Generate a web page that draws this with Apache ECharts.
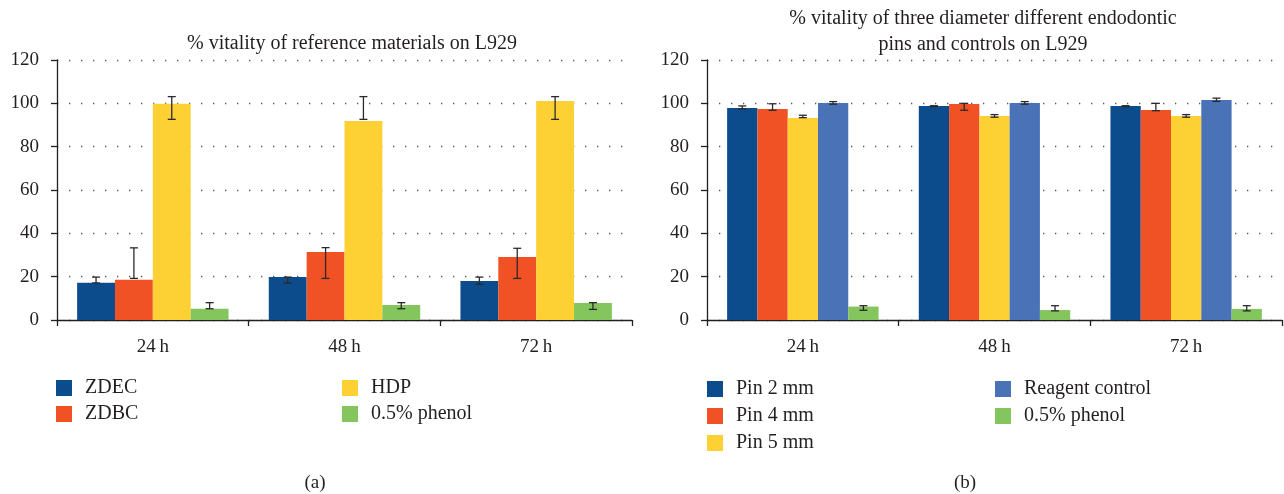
<!DOCTYPE html>
<html><head><meta charset="utf-8">
<script src="https://cdn.jsdelivr.net/npm/echarts@6/dist/echarts.min.js"></script>
<style>html,body{margin:0;padding:0;background:#fff}#c{width:1284px;height:494px}</style>
</head><body><div id="c"></div>
<script>
const categories = ['24\u2009h', '48\u2009h', '72\u2009h'];
const yTicks = [0, 20, 40, 60, 80, 100, 120];

// Chart (a): reference materials
const aNames = ['ZDEC', 'ZDBC', 'HDP', '0.5% phenol'];
const aZDEC = [17.2, 19.8, 18.0];
const aZDBC = [18.6, 31.4, 29.1];
const aHDP = [99.8, 91.8, 101.1];
const aPhenol = [5.2, 6.9, 7.8];
const aLow = [[17.1, 17.0, 16.5], [19.2, 19.2, 19.2], [92.6, 92.6, 92.6], [5.2, 5.2, 4.9]];
const aHigh = [[19.8, 19.8, 19.8], [33.3, 33.4, 33.1], [103.1, 103.1, 103.1], [8.0, 8.0, 8.0]];

// Chart (b): pins and controls
const bNames = ['Pin 2 mm', 'Pin 4 mm', 'Pin 5 mm', 'Reagent control', '0.5% phenol'];
const bPin2 = [97.8, 98.8, 98.8];
const bPin4 = [97.4, 99.7, 96.9];
const bPin5 = [93.2, 94.1, 94.1];
const bReagent = [100.2, 100.2, 101.5];
const bPhenol = [6.2, 4.6, 5.1];
const bLow = [[97.5, 98.5, 98.5], [96.8, 96.8, 96.6], [93.4, 93.6, 93.6], [99.6, 99.6, 100.9], [4.5, 4.2, 4.2]];
const bHigh = [[98.8, 98.9, 98.9], [99.8, 100.0, 100.0], [94.5, 94.8, 94.8], [100.8, 100.8, 102.4], [6.6, 6.6, 6.6]];

const aColors = ['#0c4b8c', '#f05125', '#fdd134', '#84c55e'];
const bColors = ['#0c4b8c', '#f05125', '#fdd134', '#4a73b7', '#84c55e'];

const FONT = '"Liberation Serif", "DejaVu Serif", serif';
const TXT = '#231f20';

function errSeries(n, k, low, high, gridIdx) {
  const data = categories.map((c, i) => [i, low[i], high[i]]);
  return {
    type: 'custom', name: 'err' + gridIdx + '_' + k, xAxisIndex: gridIdx, yAxisIndex: gridIdx, z: 10,
    silent: true, data: data,
    renderItem: function (params, api) {
      const ci = api.value(0);
      const p1 = api.coord([ci, api.value(1)]);
      const p2 = api.coord([ci, api.value(2)]);
      const catW = api.size([1, 0])[0];
      const bw = catW * 0.79 / n;
      const x = p1[0] + (k - (n - 1) / 2) * bw;
      const cw = 4;
      const st = { stroke: '#2a2a2a', lineWidth: 1.3 };
      return { type: 'group', children: [
        { type: 'line', shape: { x1: x, y1: p1[1], x2: x, y2: p2[1] }, style: st },
        { type: 'line', shape: { x1: x - cw, y1: p1[1], x2: x + cw, y2: p1[1] }, style: st },
        { type: 'line', shape: { x1: x - cw, y1: p2[1], x2: x + cw, y2: p2[1] }, style: st }
      ]};
    }
  };
}

function barSeries(name, data, color, gridIdx) {
  return { type: 'bar', name: name, data: data, xAxisIndex: gridIdx, yAxisIndex: gridIdx,
    itemStyle: { color: color }, barGap: '0%', barCategoryGap: '21%', emphasis: { disabled: true } };
}

const aData = [aZDEC, aZDBC, aHDP, aPhenol];
const bData = [bPin2, bPin4, bPin5, bReagent, bPhenol];
const series = [];
aNames.forEach((nm, k) => series.push(barSeries(nm, aData[k], aColors[k], 0)));
bNames.forEach((nm, k) => series.push(barSeries(nm, bData[k], bColors[k], 1)));
aNames.forEach((nm, k) => series.push(errSeries(aNames.length, k, aLow[k], aHigh[k], 0)));
bNames.forEach((nm, k) => series.push(errSeries(bNames.length, k, bLow[k], bHigh[k], 1)));

function xAx(gi) {
  return { type: 'category', gridIndex: gi, data: categories,
    axisLine: { lineStyle: { color: '#231f20', width: 1.3 } },
    axisTick: { show: true, length: 6, alignWithLabel: false, lineStyle: { color: '#231f20', width: 1.3 } },
    axisLabel: { color: TXT, fontFamily: FONT, fontSize: 19, margin: 18 } };
}
function yAx(gi) {
  return { type: 'value', gridIndex: gi, min: yTicks[0], max: yTicks[yTicks.length - 1], interval: 20,
    axisLine: { show: true, lineStyle: { color: '#231f20', width: 1.3 } },
    axisTick: { show: true, length: 6, lineStyle: { color: '#231f20', width: 1.3 } },
    axisLabel: { color: TXT, fontFamily: FONT, fontSize: 19, margin: 18 },
    splitLine: { show: true, lineStyle: { color: '#555', width: 1.3, type: [1.3, 10.7] } } };
}

function legStyle() { return { color: TXT, fontFamily: FONT, fontSize: 20, fontWeight: 'normal', padding: [0, 0, 0, 8] }; }
function leg(data, left, top, colors, gap) {
  return { data: data.map((d, i) => ({ name: d, itemStyle: { color: colors[i] }, textStyle: legStyle() })), left: left, top: top, orient: 'vertical',
    icon: 'rect', itemWidth: 16, itemHeight: 16, itemGap: gap, textStyle: legStyle(), selectedMode: false, padding: 0 };
}

const chart = echarts.init(document.getElementById('c'), null, { renderer: 'canvas' });
chart.setOption({
  animation: false,
  textStyle: { fontFamily: FONT },
  title: [
    { text: '% vitality of reference materials on L929', left: 352, top: 34, textAlign: 'center', padding: 0,
      textStyle: { fontFamily: FONT, fontSize: 20, fontWeight: 'normal', color: TXT } },
    { text: '% vitality of three diameter different endodontic\npins and controls on L929', left: 983, top: 6, textAlign: 'center', padding: 0,
      textStyle: { fontFamily: FONT, fontSize: 20, fontWeight: 'normal', color: TXT, lineHeight: 26 } },
    { text: '(a)', left: 315, top: 474, textAlign: 'center', padding: 0,
      textStyle: { fontFamily: FONT, fontSize: 19, fontWeight: 'normal', color: TXT } },
    { text: '(b)', left: 965, top: 474, textAlign: 'center', padding: 0,
      textStyle: { fontFamily: FONT, fontSize: 19, fontWeight: 'normal', color: TXT } }
  ],
  legend: [
    leg(['ZDEC', 'ZDBC'], 56, 378, aColors.slice(0, 2), 6),
    leg(['HDP', '0.5% phenol'], 342, 378, aColors.slice(2, 4), 6),
    leg(['Pin 2 mm', 'Pin 4 mm', 'Pin 5 mm'], 707, 379, bColors.slice(0, 3), 7),
    leg(['Reagent control', '0.5% phenol'], 995, 379, bColors.slice(3, 5), 7)
  ],
  grid: [
    { left: 57, right: 652, top: 60, bottom: 174 },
    { left: 707, right: 2, top: 60, bottom: 174 }
  ],
  xAxis: [xAx(0), xAx(1)],
  yAxis: [yAx(0), yAx(1)],
  series: series
});
</script></body></html>
